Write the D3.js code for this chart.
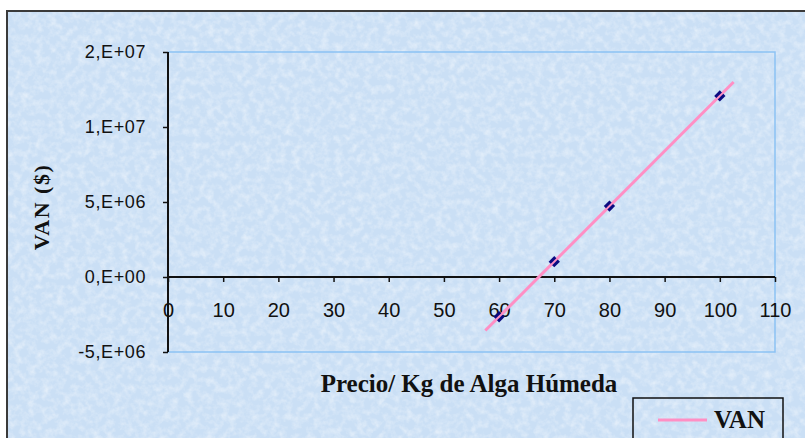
<!DOCTYPE html>
<html>
<head>
<meta charset="utf-8">
<script src="https://cdn.jsdelivr.net/npm/d3@7"></script>
<style>
  html, body { margin: 0; padding: 0; background: #fff; }
  svg { display: block; }
</style>
</head>
<body>
<div id="chart"></div>
<script>
(function () {
    // datos
    const precios = [60, 70, 80, 100];
    const van = [-2650000, 1020000, 4730000, 12070000];
    const xTicks = [0, 10, 20, 30, 40, 50, 60, 70, 80, 90, 100, 110];
    const yTicks = [-5000000, 0, 5000000, 10000000, 15000000];
    const serieNombre = "VAN";
    const xTitulo = "Precio/ Kg de Alga Húmeda";
    const yTitulo = "VAN ($)";

    const W = 805, H = 438;

    const svg = d3.select("#chart").append("svg")
        .attr("width", W)
        .attr("height", H);

    // textura de fondo (papel azul)
    const defs = svg.append("defs");
    const f = defs.append("filter").attr("id", "tex")
        .attr("x", 0).attr("y", 0).attr("width", "100%").attr("height", "100%");
    f.append("feTurbulence")
        .attr("type", "fractalNoise")
        .attr("baseFrequency", 0.14)
        .attr("numOctaves", 3)
        .attr("seed", 7);
    f.append("feColorMatrix")
        .attr("type", "matrix")
        .attr("values", "0 0 0 0 1  0 0 0 0 1  0 0 0 0 1  1.8 0 0 0 -0.7");

    svg.append("rect")
        .attr("x", 7).attr("y", 11)
        .attr("width", W).attr("height", H)
        .attr("fill", "#cadff5");
    svg.append("rect")
        .attr("x", 7).attr("y", 11)
        .attr("width", W).attr("height", H)
        .attr("filter", "url(#tex)")
        .attr("opacity", 0.5);
    svg.append("rect")
        .attr("x", 7).attr("y", 11)
        .attr("width", W).attr("height", H)
        .attr("fill", "none")
        .attr("stroke", "#3a3a3a")
        .attr("stroke-width", 2);

    // escalas
    const x = d3.scaleLinear().domain([0, 110]).range([168, 775]);
    const y = d3.scaleLinear().domain([-5000000, 15000000]).range([352, 52]);

    // formato tipo Excel "0,E+00"
    function fmtExp(v) {
        if (v === 0) return "0,E+00";
        const s = v.toExponential(0);
        const [m, e] = s.split("e");
        const sign = e[0] === "-" ? "-" : "+";
        const ex = e.replace(/[+-]/, "").padStart(2, "0");
        return m + ",E" + sign + ex;
    }

    // borde del area de trazado
    svg.append("path")
        .attr("d", `M${x(0)},${y(15000000)}H${x(110)}V${y(-5000000)}H${x(0)}`)
        .attr("fill", "none")
        .attr("stroke", "#8cc2f4")
        .attr("stroke-width", 1.5);

    // eje Y
    const yAxis = svg.append("g")
        .attr("transform", `translate(${x(0)},0)`)
        .call(d3.axisLeft(y).tickValues(yTicks).tickFormat(fmtExp).tickSize(5).tickPadding(17));
    yAxis.select(".domain").attr("stroke", "#111").attr("stroke-width", 2)
        .attr("d", `M0,${y(15000000)}V${y(-5000000)}`);
    yAxis.selectAll(".tick line").attr("stroke", "#111").attr("stroke-width", 1.5);
    yAxis.selectAll(".tick text")
        .attr("font-family", "'Liberation Sans', Arial, sans-serif")
        .attr("font-size", 18)
        .attr("letter-spacing", 0.6)
        .attr("fill", "#111");

    // eje X (en y = 0)
    const xAxis = svg.append("g")
        .attr("transform", `translate(0,${y(0)})`)
        .call(d3.axisBottom(x).tickValues(xTicks).tickFormat(d3.format("d")).tickSize(5).tickPadding(21));
    xAxis.select(".domain").attr("stroke", "#111").attr("stroke-width", 2)
        .attr("d", `M${x(0)},0H${x(110)}`);
    xAxis.selectAll(".tick line").attr("stroke", "#111").attr("stroke-width", 1.5);
    xAxis.selectAll(".tick text")
        .attr("font-family", "'Liberation Sans', Arial, sans-serif")
        .attr("font-size", 20)
        .attr("fill", "#111");

    // linea de tendencia lineal
    const mx = d3.mean(precios), my = d3.mean(van);
    const slope = d3.sum(precios, (p, i) => (p - mx) * (van[i] - my)) /
                  d3.sum(precios, p => (p - mx) * (p - mx));
    const icpt = my - slope * mx;
    const tramo = [precios[0] - 2.5, precios[precios.length - 1] + 2.5];
    svg.append("path")
        .datum(tramo)
        .attr("fill", "none")
        .attr("stroke", "#ff8fc4")
        .attr("stroke-width", 3)
        .attr("d", d3.line().x(d => x(d)).y(d => y(icpt + slope * d)));

    // marcadores
    const ang = Math.atan2(y(slope * 10) - y(0), x(10) - x(0)) * 180 / Math.PI;
    const mk = svg.selectAll(".mk")
        .data(precios.map((p, i) => ({ p: p, v: van[i] })))
        .enter().append("g")
        .attr("class", "mk")
        .attr("transform", d => `translate(${x(d.p)},${y(d.v)}) rotate(${ang})`);
    mk.append("rect").attr("x", -4).attr("y", -4).attr("width", 8).attr("height", 3).attr("fill", "#0a0a80");
    mk.append("rect").attr("x", -4).attr("y", 1).attr("width", 8).attr("height", 3).attr("fill", "#0a0a80");

    // titulos
    svg.append("text")
        .attr("x", 469).attr("y", 392)
        .attr("text-anchor", "middle")
        .attr("font-family", "'Liberation Serif', 'Times New Roman', serif")
        .attr("font-weight", "bold")
        .attr("font-size", 25)
        .attr("fill", "#111")
        .text(xTitulo);
    svg.append("text")
        .attr("transform", "translate(49,207) rotate(-90)")
        .attr("text-anchor", "middle")
        .attr("font-family", "'Liberation Serif', 'Times New Roman', serif")
        .attr("font-weight", "bold")
        .attr("font-size", 22)
        .attr("letter-spacing", 1.5)
        .attr("fill", "#111")
        .text(yTitulo);

    // leyenda
    const lg = svg.append("g").attr("transform", "translate(633,398)");
    lg.append("rect")
        .attr("width", 150).attr("height", 50)
        .attr("fill", "none")
        .attr("stroke", "#111")
        .attr("stroke-width", 1.5);
    lg.append("line")
        .attr("x1", 25).attr("x2", 74)
        .attr("y1", 22).attr("y2", 22)
        .attr("stroke", "#ff8fc4")
        .attr("stroke-width", 3);
    lg.append("text")
        .attr("x", 81).attr("y", 30)
        .attr("font-family", "'Liberation Serif', 'Times New Roman', serif")
        .attr("font-weight", "bold")
        .attr("font-size", 25)
        .attr("fill", "#111")
        .text(serieNombre);
})();
</script>
</body>
</html>
